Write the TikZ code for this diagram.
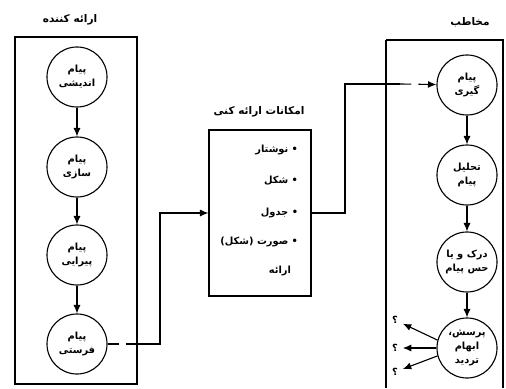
\documentclass[tikz,border=0pt]{standalone}
\usepackage{fontspec}
\usetikzlibrary{arrows.meta}
\newfontfamily\farsi[Script=Arabic]{DejaVu Sans}
\TeXXeTstate=1
\newcommand{\fa}[1]{{\farsi\beginR #1\endR}}
\begin{document}
\begin{tikzpicture}[x=0.025cm,y=-0.025cm]
    \tikzset {
        stage/.style = {draw, thick, circle, minimum size=1.5cm, inner sep=0pt,
                        align=center, font=\fontsize{7}{10}\selectfont\bfseries},
        title/.style = {font=\fontsize{7.5}{9}\selectfont\bfseries},
        item/.style  = {anchor=east, font=\fontsize{7}{9}\selectfont\bfseries},
        flow/.style  = {thick, -{Latex[length=6pt,width=5pt]}},
        gap/.style   = {thick, dash pattern=on 8pt off 5pt}
    }
    \useasboundingbox (0,0) rectangle (506,388);
    % sender
    \node[title] (senderT) at (70,20) {\fa{ارائه کننده}};
    \draw[thick] (15,37) rectangle (137,384);
    \node[stage] (s1) at (77,77)  {\fa{پیام}\\\fa{اندیشی}};
    \node[stage] (s2) at (77,167) {\fa{پیام}\\\fa{سازی}};
    \node[stage] (s3) at (77,255) {\fa{پیام}\\\fa{پیرایی}};
    \node[stage] (s4) at (77,344) {\fa{پیام}\\\fa{فرستی}};
    \draw[flow] (s1) -- (s2);
    \draw[flow] (s2) -- (s3);
    \draw[flow] (s3) -- (s4);
    % tools
    \node[title] (toolsT) at (259,112) {\fa{امکانات ارائه کنی}};
    \node[draw, thick, minimum width=2.55cm, minimum height=4.15cm] (tools) at (260,213) {};
    \node[item] (i1) at (303,150) {\fa{• نوشتار}};
    \node[item] (i2) at (303,181) {\fa{• شکل}};
    \node[item] (i3) at (303,213) {\fa{• جدول}};
    \node[item] (i4) at (303,242) {\fa{• صورت (شکل)}};
    \node[item] (i5) at (296,271) {\fa{ارائه}};
    \coordinate (a1) at (132,344);
    \coordinate (a2) at (160,344);
    \draw[gap] (s4) -- (a1);
    \draw[flow] (a1) -- (a2) |- (tools);
    % receiver
    \node[title] (receiverT) at (470,22) {\fa{مخاطب}};
    \draw[thick] (386,40) -- (386,388);
    \draw[thick] (386,40) -- (503,40) -- (503,388);
    \node[stage] (r1) at (467,85)  {\fa{پیام}\\\fa{گیری}};
    \node[stage] (r2) at (467,175) {\fa{تحلیل}\\\fa{پیام}};
    \node[stage] (r3) at (467,262) {\fa{درک و یا}\\\fa{حس پیام}};
    \node[stage] (r4) at (467,348) {\fa{پرسش،}\\\fa{ابهام}\\\fa{تردید}};
    \draw[flow] (r1) -- (r2);
    \draw[flow] (r2) -- (r3);
    \draw[flow] (r3) -- (r4);
    \coordinate (b1) at (345,213);
    \coordinate (b2) at (345,84);
    \coordinate (b3) at (400,84);
    \draw[thick] (tools.east |- b1) -- (b1) -- (b2) -- (b3);
    \draw[gap, -{Latex[length=6pt,width=5pt]}] (b3) -- (r1);
    % questions
    \node[item, anchor=center] (q1) at (395,320) {\fa{؟}};
    \node[item, anchor=center] (q2) at (395,348) {\fa{؟}};
    \node[item, anchor=center] (q3) at (395,372) {\fa{؟}};
    \draw[flow] (r4.165) -- (q1);
    \draw[flow] (r4.180) -- (q2);
    \draw[flow] (r4.195) -- (q3);
\end{tikzpicture}
\end{document}
